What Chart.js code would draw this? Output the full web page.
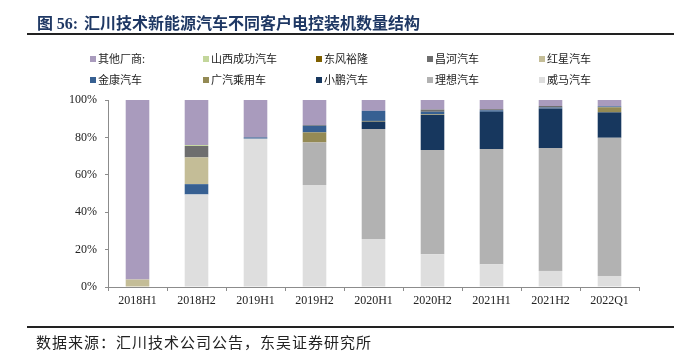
<!DOCTYPE html>
<html>
<head>
<meta charset="utf-8">
<script src="https://cdn.jsdelivr.net/npm/chart.js@4.4.1/dist/chart.umd.min.js"></script>
<style>
  html, body { margin: 0; padding: 0; background: #ffffff; }
  #wrap { position: relative; width: 683px; height: 357px; overflow: hidden; font-family: "Noto Sans CJK SC", sans-serif; }
  #title { position: absolute; left: 37px; top: 11px; font-size: 16px; line-height: 22px; font-weight: bold; color: #1f3864; white-space: nowrap; }
  #title .num { font-family: "Liberation Serif", serif; margin-right: 6px; }
  .rule { position: absolute; left: 27px; width: 647px; height: 2px; background: #222; }
  #legend { position: absolute; left: 0; top: 0; width: 683px; height: 100px; }
  .li { position: absolute; height: 16px; line-height: 16px; font-size: 11px; color: #222; white-space: nowrap; }
  .li .box { display: inline-block; width: 6px; height: 6px; margin-right: 2px; vertical-align: 1px; }
  #source { position: absolute; left: 36px; top: 331px; font-size: 15px; letter-spacing: 1px; line-height: 22px; color: #222; white-space: nowrap; }
  #c { position: absolute; left: 0; top: 0; }
</style>
</head>
<body>
<div id="wrap">
  <canvas id="c" width="683" height="357"></canvas>
  <div id="title">图 <span class="num">56:</span>汇川技术新能源汽车不同客户电控装机数量结构</div>
  <div class="rule" style="top:33px;"></div>
  <div id="legend"></div>
  <div class="rule" style="top:326px;"></div>
  <div id="source">数据来源：汇川技术公司公告，东吴证券研究所</div>
</div>
<script>
// ---- Data (percent share, bottom of stack first) ----
const categories = ['2018H1', '2018H2', '2019H1', '2019H2', '2020H1', '2020H2', '2021H1', '2021H2', '2022Q1'];

const weima     = [0,    49.5, 79.3, 54.5, 25.7, 17.5, 12.2,  8.6,  5.9]; // 威马汽车
const lixiang   = [0,    0,    0,    22.8, 58.8, 55.7, 61.6, 65.7, 73.9]; // 理想汽车
const xiaopeng  = [0,    0,    0,    0,     3.9, 18.8, 19.9, 21.2, 13.6]; // 小鹏汽车
const gac       = [0,    0,    0,    5.4,   0.4,  0.3,  0,    0,    2.7]; // 广汽乘用车
const jinkang   = [0,    5.5,  0.7,  3.5,   5.4,  1.4,  0.8,  0.5,  0.5]; // 金康汽车
const hongxing  = [4.0, 14.3,  0,    0,     0,    0,    0,    0,    0  ]; // 红星汽车
const changhe   = [0,    6.1,  0,    0.4,   0,    1.2,  0.6,  0.8,  0  ]; // 昌河汽车
const dongfeng  = [0,    0,    0,    0,     0,    0,    0,    0,    0  ]; // 东风裕隆
const shanxi    = [0,    0.5,  0,    0,     0,    0,    0,    0,    0  ]; // 山西成功汽车
const others    = [96.0, 24.1, 20.0, 13.4,  5.8,  5.1,  4.9,  3.2,  3.4]; // 其他厂商

const yTicks = [0, 20, 40, 60, 80, 100];

const seriesNames  = ['威马汽车', '理想汽车', '小鹏汽车', '广汽乘用车', '金康汽车', '红星汽车', '昌河汽车', '东风裕隆', '山西成功汽车', '其他厂商:'];
const seriesValues = [weima, lixiang, xiaopeng, gac, jinkang, hongxing, changhe, dongfeng, shanxi, others];
const seriesColors = ['#dedede', '#b2b2b2', '#17375e', '#948a54', '#376092', '#c4bd97', '#6e6e6e', '#7f6000', '#c3d69b', '#a99bbd'];

const datasets = seriesNames.map((name, i) => ({
  label: name,
  data: seriesValues[i],
  backgroundColor: seriesColors[i],
  borderWidth: 0,
  categoryPercentage: 1.0,
  barPercentage: 0.4,
  stack: 's'
}));

const axisColor = '#8c8c8c';
const serif = 'Liberation Serif';

const chart = new Chart(document.getElementById('c'), {
  type: 'bar',
  data: { labels: categories, datasets },
  options: {
    responsive: false,
    animation: false,
    layout: { padding: { left: 0, top: 100, right: 44, bottom: 45 } },
    plugins: { legend: { display: false }, tooltip: { enabled: false }, title: { display: false } },
    scales: {
      x: {
        stacked: true,
        grid: { display: true, drawOnChartArea: false, drawTicks: true, tickLength: 4, color: axisColor, offset: true },
        border: { display: true, color: axisColor, width: 1 },
        ticks: { color: '#222', font: { family: serif, size: 12 }, padding: 3, maxRotation: 0, autoSkip: false },
        afterFit: (s) => { s.height = 25; }
      },
      y: {
        stacked: true,
        min: 0, max: 100,
        afterBuildTicks: (s) => { s.ticks = yTicks.map(v => ({ value: v })); },
        grid: { display: true, drawOnChartArea: false, drawTicks: true, tickLength: 3, color: axisColor },
        border: { display: true, color: axisColor, width: 1 },
        ticks: { color: '#222', font: { family: serif, size: 12 }, padding: 8, callback: (v) => v + '%' },
        afterFit: (s) => { s.width = 108; }
      }
    }
  }
});

// ---- HTML legend built from the chart's datasets (Excel-style grid, reverse order) ----
const legendEl = document.getElementById('legend');
const colX = [90, 203, 316, 427, 539];
const rowY = [50, 71];
const items = chart.data.datasets.map((d) => ({ text: d.label, color: d.backgroundColor })).reverse();
items.forEach((it, k) => {
  const el = document.createElement('div');
  el.className = 'li';
  el.style.left = colX[k % 5] + 'px';
  el.style.top = rowY[Math.floor(k / 5)] + 'px';
  const box = document.createElement('span');
  box.className = 'box';
  box.style.background = it.color;
  el.appendChild(box);
  el.appendChild(document.createTextNode(it.text));
  legendEl.appendChild(el);
});
</script>
</body>
</html>
